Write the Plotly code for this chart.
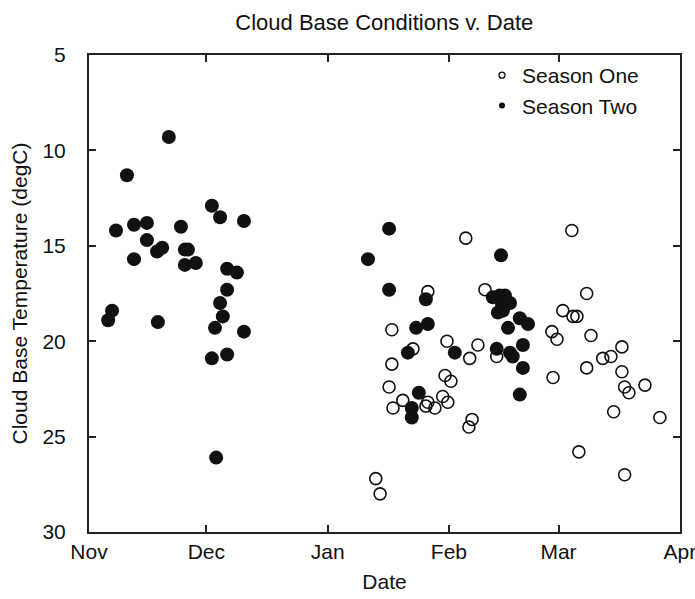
import plotly.graph_objects as go

# Day offsets counted from 1 November; temperatures in degC
month_days = [0, 30, 61, 92, 120, 151]
month_labels = ["Nov", "Dec", "Jan", "Feb", "Mar", "Apr"]

season_one_day = [77.4, 77.4, 76.7, 77.7, 80.2, 82.8, 86.6, 86.1, 86.6, 88.4,
                  90.4, 91.7, 91.0, 92.5, 96.3, 101.2, 91.5, 99.4, 97.3, 104.2,
                  97.9, 97.1, 73.3, 74.4, 123.4, 127.2, 121.1, 123.7, 124.7, 118.3,
                  119.6, 128.3, 136.2, 131.3, 133.4, 127.2, 136.2, 118.6, 136.9, 138.0,
                  142.1, 134.1, 145.9, 125.2, 136.9]
season_one_temp = [19.4, 21.2, 22.4, 23.5, 23.1, 20.4, 17.4, 23.4, 23.2, 23.5,
                   22.9, 23.2, 21.8, 22.1, 14.6, 17.3, 20.0, 20.2, 20.9, 20.8,
                   24.1, 24.5, 27.2, 28.0, 14.2, 17.5, 18.4, 18.7, 18.7, 19.5,
                   19.9, 19.7, 20.3, 20.9, 20.8, 21.4, 21.6, 21.9, 22.4, 22.7,
                   22.3, 23.7, 24.0, 25.8, 27.0]

season_two_day = [4.9, 5.9, 6.9, 9.7, 11.5, 11.5, 14.8, 14.8, 17.4, 18.7,
                  17.6, 20.4, 23.5, 24.5, 25.3, 24.5, 27.3, 31.4, 33.5, 39.6,
                  35.3, 37.8, 35.3, 33.5, 34.2, 32.2, 39.6, 35.3, 31.4, 32.5,
                  71.3, 76.7, 76.7, 105.3, 86.1, 86.6, 83.6, 103.2, 105.0, 106.3,
                  107.6, 105.5, 104.5, 105.8, 107.1, 110.1, 112.2, 110.9, 104.2, 107.6,
                  108.3, 110.9, 110.1, 81.5, 93.5, 84.3, 82.5, 82.5]
season_two_temp = [18.9, 18.4, 14.2, 11.3, 13.9, 15.7, 13.8, 14.7, 15.3, 15.1,
                   19.0, 9.3, 14.0, 15.2, 15.2, 16.0, 15.9, 12.9, 13.5, 13.7,
                   16.2, 16.4, 17.3, 18.0, 18.7, 19.3, 19.5, 20.7, 20.9, 26.1,
                   15.7, 14.1, 17.3, 15.5, 17.8, 19.1, 19.3, 17.7, 17.6, 17.6,
                   18.0, 18.0, 18.5, 18.4, 19.3, 18.8, 19.1, 20.2, 20.4, 20.6,
                   20.8, 21.4, 22.8, 20.6, 20.6, 22.7, 23.5, 24.0]

FONT = "Liberation Sans, Arial, sans-serif"
INK = "#111111"

fig = go.Figure()

fig.add_trace(go.Scatter(
    x=season_one_day, y=season_one_temp, mode="markers", showlegend=False,
    marker=dict(symbol="circle-open", size=12, color=INK, line=dict(width=1.6, color=INK)),
))
fig.add_trace(go.Scatter(
    x=season_two_day, y=season_two_temp, mode="markers", showlegend=False,
    marker=dict(symbol="circle", size=14, color=INK, line=dict(width=0)),
))

# Small legend glyphs
fig.add_trace(go.Scatter(
    x=[None], y=[None], mode="markers", name="Season One",
    marker=dict(symbol="circle-open", size=6, color=INK, line=dict(width=1.3, color=INK)),
))
fig.add_trace(go.Scatter(
    x=[None], y=[None], mode="markers", name="Season Two",
    marker=dict(symbol="circle", size=6, color=INK),
))

axis_common = dict(
    showline=True, linecolor="#222222", linewidth=2, mirror="ticks",
    ticks="inside", ticklen=7, tickwidth=1.5, tickcolor="#222222",
    showgrid=False, zeroline=False, automargin=False,
    tickfont=dict(family=FONT, size=21, color=INK),
)

fig.update_layout(
    width=695, height=599,
    margin=dict(l=89, r=15, t=55, b=67),
    paper_bgcolor="white", plot_bgcolor="white",
    title=dict(text="Cloud Base Conditions v. Date", x=0.553, xanchor="center",
               y=0.963, yanchor="middle",
               font=dict(family=FONT, size=22, color=INK)),
    xaxis=dict(range=[0, 151.05], tickvals=month_days, ticktext=month_labels,
               ticklabeloverflow="allow",
               title=dict(text="Date", font=dict(family=FONT, size=21, color=INK), standoff=12),
               **axis_common),
    yaxis=dict(range=[30, 5], tickvals=[5, 10, 15, 20, 25, 30],
               title=dict(text="Cloud Base Temperature (degC)",
                          font=dict(family=FONT, size=21, color=INK), standoff=9),
               ticklabelstandoff=17,
               **axis_common),
    legend=dict(x=0.665, y=1.0, xanchor="left", yanchor="top",
                bgcolor="rgba(0,0,0,0)", borderwidth=0,
                font=dict(family=FONT, size=21, color=INK),
                itemwidth=30, tracegroupgap=2),
    showlegend=True,
)

fig.write_html("out.html")
